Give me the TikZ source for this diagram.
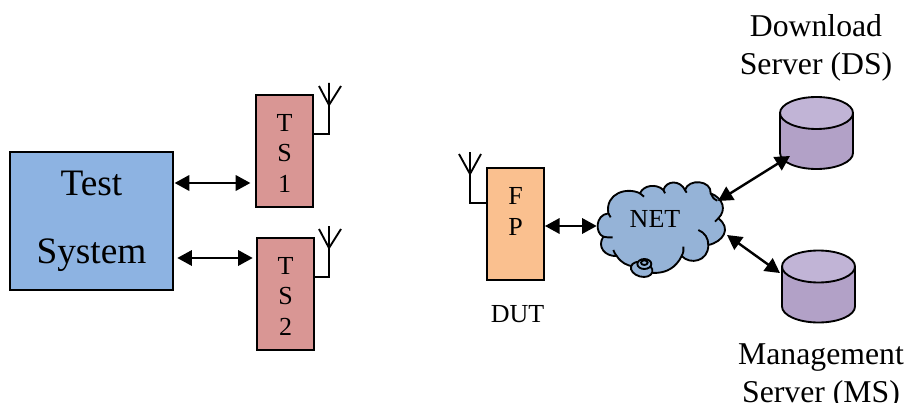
\documentclass[tikz,border=0pt]{standalone}
\usepackage{fontspec}
\setmainfont{Liberation Serif}
\usetikzlibrary{arrows.meta,shapes.geometric}
\definecolor{sysblue}{HTML}{8DB3E2}
\definecolor{tsred}{HTML}{D99694}
\definecolor{fporange}{HTML}{FAC08F}
\definecolor{netblue}{HTML}{95B3D7}
\definecolor{dbbody}{HTML}{B2A1C7}
\definecolor{dbtop}{HTML}{C1B4D6}
\newcommand{\lift}[1]{\rule{0pt}{#1}}
\begin{document}
\begin{tikzpicture}[
        x=0.75pt, y=-0.75pt,
        box/.style={rectangle, draw, line width=1.4pt, inner sep=0pt, align=center,
                    minimum width=42.75pt, minimum height=84pt,
                    font=\fontsize{19.5}{23}\selectfont},
        db/.style={cylinder, draw, line width=1.4pt, shape border rotate=90, aspect=3.6,
                   anchor=shape center, minimum width=54.75pt, minimum height=54pt,
                   cylinder uses custom fill, cylinder body fill=dbbody, cylinder end fill=dbtop},
        txt/.style={inner sep=0pt, align=center, font=\fontsize{23.8}{28.5}\selectfont},
        link/.style={{Triangle[length=11pt,width=11.5pt]}-{Triangle[length=11pt,width=11.5pt]}, line width=1.8pt},
        ant/.style={line width=1.4pt}
    ]
        \useasboundingbox (0,0) rectangle (906,403);

        \node[box, fill=sysblue, minimum width=122.25pt, minimum height=103.5pt,
              font=\fontsize{28}{51}\selectfont] (sys) at (91.5,221) {\lift{19.5pt}Test\\System};
        \node[box, fill=tsred] (ts1) at (284.5,151) {\lift{16pt}T\\S\\1};
        \node[box, fill=tsred] (ts2) at (285.5,294) {\lift{16pt}T\\S\\2};
        \node[box, fill=fporange] (fp) at (515.5,224) {\lift{17.4pt}F\\P\\ };

        % cloud
        \begin{scope}[shift={(440,130)}, x=0.25pt, y=-0.25pt, line width=1.4pt]
            \draw[fill=netblue]
                (505,250) .. controls (465,255) and (465,310) .. (490,320)
                .. controls (470,350) and (495,380) .. (530,378)
                .. controls (545,400) and (560,405) .. (580,410)
                .. controls (610,430) and (690,450) .. (725,378)
                .. controls (750,405) and (805,395) .. (805,345)
                .. controls (850,335) and (875,295) .. (835,265)
                .. controls (860,240) and (850,205) .. (812,190)
                .. controls (815,150) and (745,145) .. (735,180)
                .. controls (720,150) and (680,150) .. (670,180)
                .. controls (650,160) and (610,165) .. (600,190)
                .. controls (560,170) and (495,190) .. (505,250) -- cycle;
            \draw (490,320) .. controls (498,322) and (508,323) .. (518,322);
            \draw (530,378) .. controls (525,372) and (522,366) .. (520,360);
            \draw (725,378) .. controls (730,368) and (732,360) .. (730,350);
            \draw (805,345) .. controls (805,325) and (795,308) .. (775,300);
            \draw (835,265) .. controls (832,270) and (830,272) .. (825,275);
            \draw (812,190) .. controls (815,200) and (822,208) .. (832,212);
            \draw (735,180) .. controls (737,184) and (738,186) .. (740,188);
            \draw (670,180) .. controls (672,184) and (673,186) .. (675,190);
            \draw (600,190) .. controls (605,194) and (608,197) .. (612,200);
            \draw (505,250) .. controls (507,254) and (509,257) .. (512,262);
            \draw[fill=netblue, rotate around={-15:(605,418)}] (605,418) ellipse (33 and 22);
            \draw[fill=netblue] (613,402) ellipse (21 and 15);
            \draw[fill=netblue] (613,398) ellipse (10 and 7);
        \end{scope}
        \node[inner sep=0pt, minimum width=87pt, minimum height=30pt,
              font=\fontsize{19.5}{23}\selectfont] (net) at (655,219) {NET};

        \node[db] (ds) at (816.5,133) {};
        \node[db] (ms) at (818.5,286.5) {};

        \node[txt] (dstxt) at (816,48) {Download\\Server (DS)};
        \node[txt] (mstxt) at (821,376) {Management\\Server (MS)};
        \node[txt, font=\fontsize{19.5}{23}\selectfont] (dut) at (517.5,314) {DUT};

        \coordinate (netds) at (718,201);
        \coordinate (netms) at (727,235);

        \draw[link] ([xshift=0.5pt,yshift=28.5pt]sys.east) -- ([xshift=-3.5pt,yshift=-24pt]ts1.west);
        \draw[link] ([xshift=2.5pt,yshift=-27.75pt]sys.east) -- ([xshift=-2.5pt,yshift=27pt]ts2.west);
        \draw[link] ([yshift=-1.5pt]fp.east) -- ([yshift=-1.5pt]fp.east -| net.west);
        \draw[link] (netds) -- ([xshift=-19.9pt,yshift=-17.25pt]ds.shape center);
        \draw[link] (netms) -- ([xshift=-28.9pt,yshift=10.1pt]ms.shape center);

        % antennas
        \foreach \tsname/\jy/\ty in {ts1/105/134, ts2/248/277} {
            \coordinate (a) at (329,\jy);
            \draw[ant] (\tsname.east |- 0,\ty) -- (329,\ty) -- (a)
                (329,\jy-22) -- (a) (319,\jy-19) -- (a) -- (341,\jy-19);
        }
        \coordinate (b) at (470,174);
        \draw[ant] (fp.west |- 0,203) -- (470,203) -- (b)
            (470,152) -- (b) (459,154) -- (b) -- (481,154);
\end{tikzpicture}
\end{document}
